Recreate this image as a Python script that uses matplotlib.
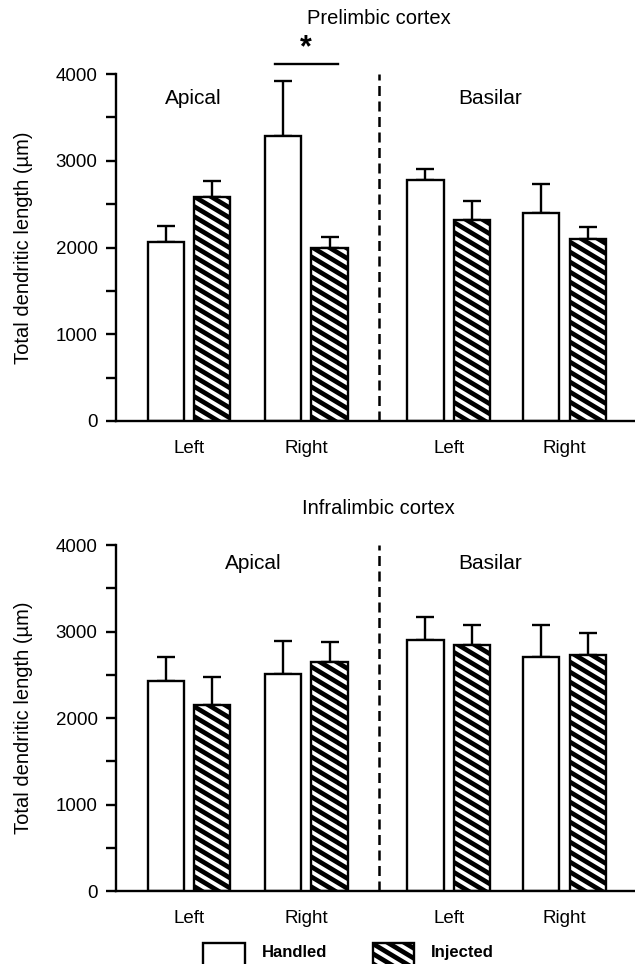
import matplotlib
matplotlib.use("Agg")
import numpy as np
import matplotlib.pyplot as plt
from matplotlib import hatch as mhatch
from matplotlib.path import Path
from matplotlib.patches import Patch, Rectangle
from matplotlib.legend_handler import HandlerPatch
from matplotlib.ticker import MultipleLocator

plt.rcParams['font.family'] = ['Liberation Sans', 'DejaVu Sans']
plt.rcParams['hatch.linewidth'] = 3.4


# shallower "\" hatch (slope ~0.6), periodic in the unit tile
class ShallowSEHatch(mhatch.HatchPatternBase):
    def __init__(self, hatch, density):
        self.n = 10 if hatch.count('\\') else 0
        self.ks = np.arange(-2, 19) if self.n else np.array([])
        self.num_vertices = 2 * len(self.ks)

    def set_vertices_and_codes(self, vertices, codes):
        c = self.ks / self.n
        x0, x1 = -0.2, 1.2
        vertices[0::2, 0] = x0
        vertices[0::2, 1] = c - 0.6 * x0
        vertices[1::2, 0] = x1
        vertices[1::2, 1] = c - 0.6 * x1
        codes[0::2] = Path.MOVETO
        codes[1::2] = Path.LINETO


mhatch._hatch_types[:] = [ShallowSEHatch if t is mhatch.SouthEastHatch else t
                          for t in mhatch._hatch_types]

groups = ["Left", "Right", "Left", "Right"]
titles = ["Prelimbic cortex", "Infralimbic cortex"]
series = ["Handled", "Injected"]

pl_handled = [2060, 3290, 2780, 2400]
pl_handled_err = [190, 630, 130, 330]
pl_injected = [2580, 2000, 2320, 2100]
pl_injected_err = [190, 120, 220, 140]

il_handled = [2430, 2510, 2900, 2700]
il_handled_err = [270, 380, 270, 370]
il_injected = [2150, 2650, 2850, 2730]
il_injected_err = [330, 230, 220, 250]

pos = [0, 1, 2.22, 3.21]
off = 0.2
w = 0.308
LW = 1.7

fig = plt.figure(figsize=(6.35, 9.64), dpi=100)


def panel(rect, h, he, inj, ie, title, title_y, label_y, apical_x, xpad):
    ax = fig.add_axes(rect)
    xs_h = [p - off for p in pos]
    xs_i = [p + off for p in pos]
    ax.bar(xs_h, h, w, color='white', edgecolor='black', linewidth=LW, zorder=2)
    ax.bar(xs_i, inj, w, color='white', edgecolor='black', linewidth=LW,
           hatch='\\', zorder=2)
    ax.errorbar(xs_h, h, yerr=[[0] * 4, he], fmt='none', ecolor='black',
                elinewidth=LW, capsize=6.8, capthick=LW, zorder=1)
    ax.errorbar(xs_i, inj, yerr=[[0] * 4, ie], fmt='none', ecolor='black',
                elinewidth=LW, capsize=6.8, capthick=LW, zorder=1)
    ax.set_xlim(-0.624, 3.81)
    ax.set_ylim(0, 4000)
    ax.axvline(1.624, color='black', linestyle=(0, (4, 2.2)), linewidth=1.8)
    for s in ['top', 'right']:
        ax.spines[s].set_visible(False)
    for s in ['left', 'bottom']:
        ax.spines[s].set_linewidth(LW)
    ax.yaxis.set_major_locator(MultipleLocator(1000))
    ax.yaxis.set_minor_locator(MultipleLocator(500))
    ax.tick_params(axis='y', which='both', direction='out', length=7.2,
                   width=LW, labelsize=13.5, pad=6)
    ax.set_xticks(pos)
    ax.set_xticklabels(groups, fontsize=13.5)
    ax.tick_params(axis='x', length=0, pad=xpad)
    ax.set_ylabel("Total dendritic length (\u00b5m)", fontsize=14.5,
                  labelpad=16)
    ax.text(1.62, title_y, title, fontsize=14.5, ha='center', va='center',
            clip_on=False)
    ax.text(apical_x, label_y, "Apical", fontsize=15, ha='center', va='center')
    ax.text(2.57, label_y, "Basilar", fontsize=15, ha='center', va='center')
    return ax


ax1 = panel([0.1827, 0.5633, 0.8173, 0.3599], pl_handled, pl_handled_err,
            pl_injected, pl_injected_err, titles[0], 4645, 3723, 0.04, 14)
ax1.plot([0.735, 1.274], [4115, 4115], color='black', linewidth=LW,
         clip_on=False)
ax1.text(1.0, 4300, "*", fontsize=22, fontweight='bold', ha='center',
         va='center')

ax2 = panel([0.1827, 0.0757, 0.8173, 0.3589], il_handled, il_handled_err,
            il_injected, il_injected_err, titles[1], 4428, 3792, 0.547, 14)


def tall_box(legend, orig_handle, xdescent, ydescent, width, height, fontsize):
    return Rectangle((-xdescent, -ydescent - height), width, 2 * height)


handles = [Patch(facecolor='white', edgecolor='black', linewidth=LW,
                 label=series[0]),
           Patch(facecolor='white', edgecolor='black', linewidth=LW,
                 hatch='\\', label=series[1])]
fig.legend(handles=handles, loc='upper center',
           bbox_to_anchor=(0.5490, 1 - 943 / 964), ncol=2, frameon=False,
           handlelength=2.5, handleheight=1.2, handletextpad=1.0,
           columnspacing=2.75, borderpad=0, borderaxespad=0,
           handler_map={Patch: HandlerPatch(patch_func=tall_box)},
           prop={'weight': 'bold', 'size': 12})

fig.savefig("out.png", dpi=100)
